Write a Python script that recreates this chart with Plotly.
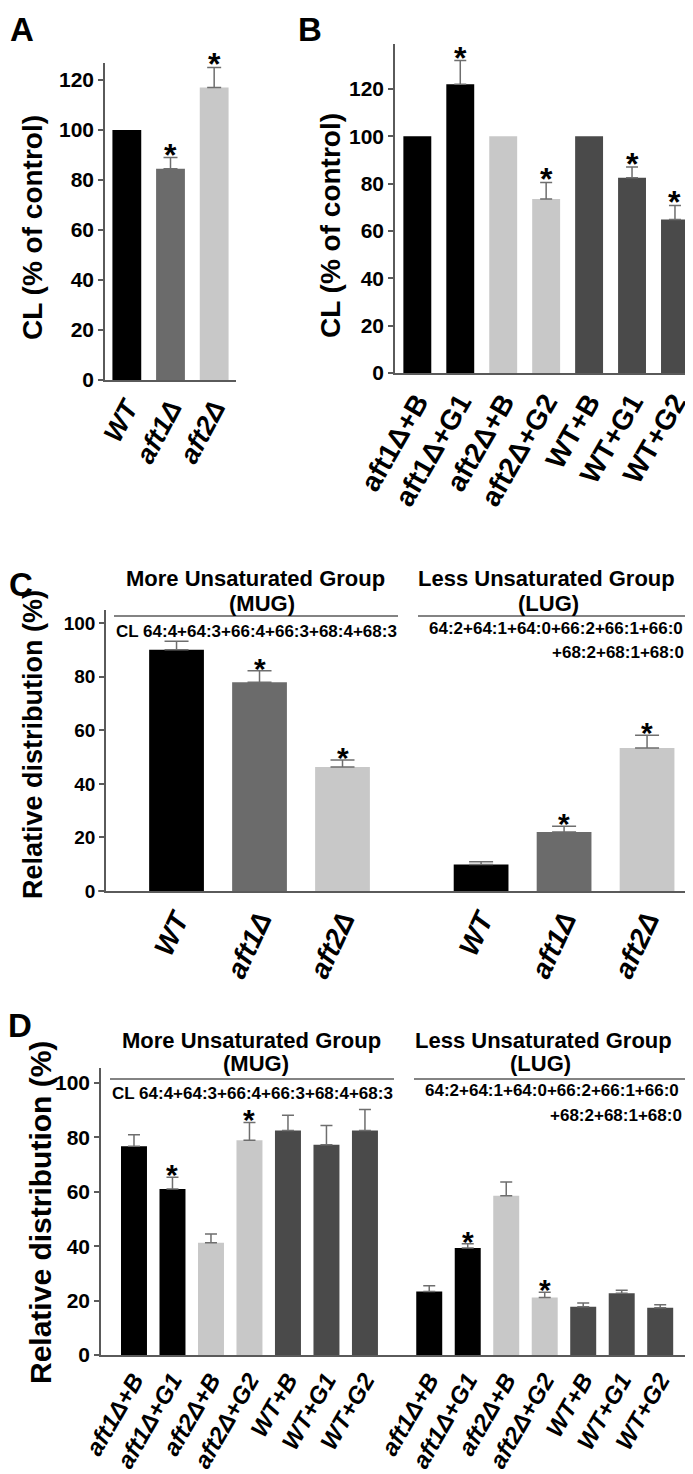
import plotly.graph_objects as go

W, H = 693, 1474

# ---------------- data ----------------
a_labels = ["WT", "aft1Δ", "aft2Δ"]
a_values = [100, 84.5, 117]
a_errors = [0, 4.5, 8]
a_sig = [False, True, True]

b_labels = ["aft1Δ+B", "aft1Δ+G1", "aft2Δ+B", "aft2Δ+G2", "WT+B", "WT+G1", "WT+G2"]
b_values = [100, 122, 100, 73.5, 100, 82.5, 64.8]
b_errors = [0, 10, 0, 7, 0, 4.5, 6]
b_sig = [False, True, False, True, False, True, True]

c_labels = ["WT", "aft1Δ", "aft2Δ"]
c_mug_values = [90.1, 77.9, 46.3]
c_mug_errors = [3.1, 4.3, 2.6]
c_mug_sig = [False, True, True]
c_lug_values = [9.9, 22.0, 53.4]
c_lug_errors = [1.0, 2.2, 4.7]
c_lug_sig = [False, True, True]

d_labels = ["aft1Δ+B", "aft1Δ+G1", "aft2Δ+B", "aft2Δ+G2", "WT+B", "WT+G1", "WT+G2"]
d_mug_values = [76.7, 61.0, 41.3, 78.9, 82.5, 77.3, 82.5]
d_mug_errors = [4.3, 4.3, 3.2, 6.6, 5.6, 7.1, 7.7]
d_mug_sig = [False, True, False, True, False, False, False]
d_lug_values = [23.3, 39.3, 58.5, 21.1, 17.7, 22.7, 17.4]
d_lug_errors = [2.2, 1.6, 5.1, 2.0, 1.4, 1.1, 1.1]
d_lug_sig = [False, True, False, True, False, False, False]

group_titles = ["More Unsaturated Group", "Less Unsaturated Group"]
group_abbr = ["(MUG)", "(LUG)"]
mug_species = "CL 64:4+64:3+66:4+66:3+68:4+68:3"
lug_species_1 = "64:2+64:1+64:0+66:2+66:1+66:0"
lug_species_2 = "+68:2+68:1+68:0"

# ---------------- style ----------------
BLACK, DARK, MID, LIGHT = "#000000", "#4a4a4a", "#6b6b6b", "#c8c8c8"
colors_3 = [BLACK, MID, LIGHT]
colors_7 = [BLACK, BLACK, LIGHT, LIGHT, DARK, DARK, DARK]
AXC = "#5a5a5a"
ERRC = "#6e6e6e"
FONT = "Liberation Sans, Arial, sans-serif"
GAP = 0.67  # extra spacing between MUG / LUG groups (in bar pitches)


def fx(p):
    return p / W


def fy(p):
    return 1 - p / H


fig = go.Figure()
annotations = []
shapes = []


def add_panel(xs, vals, errs, sigs, colors, width, cap, xa, ya, star_size, star_shift):
    fig.add_trace(go.Bar(x=xs, y=vals, marker=dict(color=colors, line=dict(width=0)),
                         width=width, xaxis=xa, yaxis=ya, hoverinfo="x+y"))
    keep = [i for i, e in enumerate(errs) if e > 0]
    fig.add_trace(go.Scatter(
        x=[xs[i] for i in keep], y=[vals[i] for i in keep], mode="markers",
        marker=dict(size=1, color="rgba(0,0,0,0)"), xaxis=xa, yaxis=ya,
        error_y=dict(type="data", symmetric=False, array=[errs[i] for i in keep],
                     arrayminus=[0] * len(keep), color=ERRC, thickness=1.5, width=cap)))
    for x, y, e, s in zip(xs, vals, errs, sigs):
        if s:
            annotations.append(dict(x=x, y=y + e, xref=xa, yref=ya, text="*",
                                    showarrow=False, yanchor="bottom", yshift=star_shift,
                                    font=dict(family=FONT, size=star_size, color="black",
                                              weight="bold")))


# Panel A
add_panel(a_labels, a_values, a_errors, a_sig, colors_3, 0.66, 7, "x", "y", 32, -17)
# Panel B
add_panel(b_labels, b_values, b_errors, b_sig, colors_7, 0.65, 6, "x2", "y2", 32, -17)
# Panel C
c_x = [i for i in range(len(c_labels))] + [i + len(c_labels) + GAP for i in range(len(c_labels))]
add_panel(c_x, c_mug_values + c_lug_values, c_mug_errors + c_lug_errors,
          c_mug_sig + c_lug_sig, colors_3 * 2, 0.66, 12, "x3", "y3", 30, -16)
# Panel D
d_x = [i for i in range(len(d_labels))] + [i + len(d_labels) + GAP for i in range(len(d_labels))]
add_panel(d_x, d_mug_values + d_lug_values, d_mug_errors + d_lug_errors,
          d_mug_sig + d_lug_sig, colors_7 * 2, 0.675, 6, "x4", "y4", 30, -16)


def yax(domain, rng, size, anchor):
    return dict(domain=domain, range=rng, anchor=anchor, automargin=False,
                showline=True, linecolor=AXC, linewidth=1.5,
                ticks="outside", ticklen=5, tickcolor=AXC, tickwidth=1.5, dtick=20,
                showgrid=False, zeroline=False,
                tickfont=dict(family=FONT, size=size, color="black", weight="bold"))


def xax(domain, anchor, size, angle, italic, **kw):
    d = dict(domain=domain, anchor=anchor, automargin=False,
             showline=True, linecolor=AXC, linewidth=1.5,
             ticks="", showgrid=False, zeroline=False, tickangle=angle,
             tickfont=dict(family=FONT, size=size, color="black", weight="bold",
                           style="italic" if italic else "normal"))
    d.update(kw)
    return d


fig.update_layout(
    width=W, height=H, margin=dict(l=0, r=0, t=0, b=0, autoexpand=False),
    paper_bgcolor="white", plot_bgcolor="white", showlegend=False,
    xaxis=xax([fx(97), fx(228)], "y", 27, -62, True, type="category", range=[-0.5, 2.5]),
    yaxis=yax([fy(372), fy(55)], [0, 126.8], 21, "x"),
    xaxis2=xax([fx(387), fx(682)], "y2", 28, -60, False, type="category", range=[-0.52, 6.35]),
    yaxis2=yax([fy(365), fy(36)], [0, 139], 21, "x2"),
    xaxis3=xax([fx(98), fx(693)], "y3", 28, -65, True, range=[-0.85, 6.32],
               tickmode="array", tickvals=c_x, ticktext=c_labels * 2),
    yaxis3=yax([fy(883), fy(602)], [0, 104.9], 19, "x3"),
    xaxis4=xax([fx(93), fx(683)], "y4", 24, -60, True, range=[-0.857, 14.47],
               tickmode="array", tickvals=d_x, ticktext=d_labels * 2),
    yaxis4=yax([fy(1347), fy(1060)], [0, 105.5], 21, "x4"),
)


def ptext(text, x, y, size, xanchor="center", yanchor="middle", angle=0):
    annotations.append(dict(x=fx(x), y=fy(y), xref="paper", yref="paper", text=text,
                            showarrow=False, xanchor=xanchor, yanchor=yanchor, textangle=angle,
                            font=dict(family=FONT, size=size, color="black", weight="bold")))


def pline(x0, x1, y):
    shapes.append(dict(type="line", xref="paper", yref="paper", x0=fx(x0), x1=fx(x1),
                       y0=fy(y), y1=fy(y), line=dict(color=AXC, width=1.5)))


# panel letters
ptext("A", 14, 1, 33, yanchor="top")
ptext("B", 302, 1, 33, yanchor="top")
ptext("C", 13, 556, 33, yanchor="top")
ptext("D", 12, 997, 33, yanchor="top")

# y titles
ptext("CL (% of control)", 25, 220, 28, angle=-90)
ptext("CL (% of control)", 322, 218, 28, angle=-90)
ptext("Relative distribution (%)", 25, 737, 27, angle=-90)
ptext("Relative distribution (%)", 32, 1205, 30, angle=-90)

# short x-axis overhang left of the y axis (C, D)
pline(90, 98, 883)
pline(88, 93, 1347)

# group headers C
ptext(group_titles[0], 247, 571, 22)
ptext(group_abbr[0], 254, 596, 22)
ptext(group_titles[1], 538, 571, 22)
ptext(group_abbr[1], 540, 596, 22)
pline(106, 390, 608)
pline(410, 690, 608)
ptext(mug_species, 106, 623, 17, xanchor="left")
ptext(lug_species_1, 548, 620, 17)
ptext(lug_species_2, 678, 644, 17, xanchor="right")

# group headers D
ptext(group_titles[0], 244, 1032, 22)
ptext(group_abbr[0], 248, 1055, 22)
ptext(group_titles[1], 535, 1032, 22)
ptext(group_abbr[1], 532, 1055, 22)
pline(102, 386, 1071)
pline(406, 686, 1071)
ptext(mug_species, 102, 1085, 17, xanchor="left")
ptext(lug_species_1, 544, 1082, 17)
ptext(lug_species_2, 676, 1107, 17, xanchor="right")

fig.update_layout(annotations=annotations, shapes=shapes)
fig.write_html("out.html")
